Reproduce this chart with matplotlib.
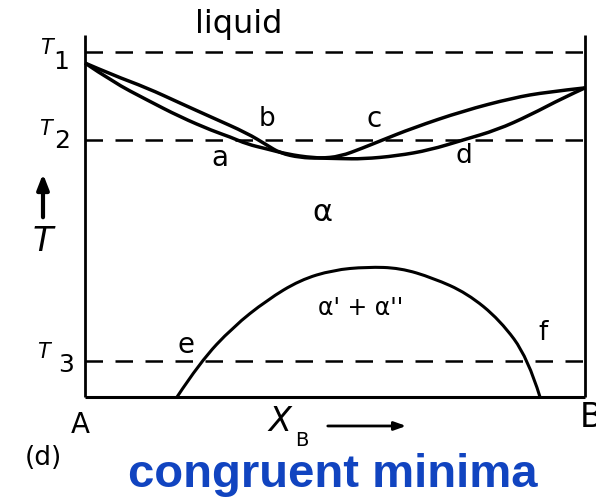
import matplotlib
matplotlib.use("Agg")
import matplotlib.pyplot as plt
from matplotlib.path import Path
from matplotlib.patches import PathPatch

# Composition X_B (0 = pure A, 1 = pure B) and reduced temperature
T1, T2, T3 = 1.0, 0.745, 0.104

liquidus_x = [0.0, 0.056, 0.124, 0.19, 0.256, 0.324, 0.364, 0.39, 0.43, 0.47, 0.51,
              0.556, 0.59, 0.656, 0.756, 0.856, 0.924, 1.0]
liquidus_T = [0.968, 0.933, 0.896, 0.852, 0.809, 0.765, 0.730, 0.707, 0.694, 0.692, 0.697,
              0.722, 0.742, 0.780, 0.829, 0.867, 0.884, 0.896]

solidus_x = [0.0, 0.056, 0.124, 0.19, 0.256, 0.29, 0.324, 0.364, 0.404, 0.456, 0.51,
             0.556, 0.624, 0.69, 0.756, 0.824, 0.89, 0.956, 1.0]
solidus_T = [0.968, 0.913, 0.861, 0.812, 0.771, 0.754, 0.733, 0.719, 0.704, 0.693, 0.691,
             0.690, 0.699, 0.716, 0.745, 0.774, 0.817, 0.867, 0.896]

gap_x = [0.184, 0.23, 0.296, 0.364, 0.43, 0.496, 0.564, 0.63, 0.696, 0.764, 0.83, 0.886, 0.91]
gap_T = [0.0, 0.101, 0.203, 0.281, 0.339, 0.368, 0.377, 0.374, 0.345, 0.301, 0.223, 0.113, 0.0]


def smooth_curve(ax, xs, ys, **kw):
    """Quadratic Bezier through the midpoints of successive nodes."""
    pts = list(zip(xs, ys))
    verts = [pts[0]]
    codes = [Path.MOVETO]
    for i in range(1, len(pts) - 2):
        mid = ((pts[i][0] + pts[i + 1][0]) / 2, (pts[i][1] + pts[i + 1][1]) / 2)
        verts += [pts[i], mid]
        codes += [Path.CURVE3, Path.CURVE3]
    verts += [pts[-2], pts[-1]]
    codes += [Path.CURVE3, Path.CURVE3]
    ax.add_patch(PathPatch(Path(verts, codes), fill=False, **kw))


fig = plt.figure(figsize=(5.96, 4.98), dpi=100)
ax = fig.add_axes([0, 0, 1, 1])
ax.set_xlim(-0.17, 1.022)
ax.set_ylim(-0.29275, 1.15072)
ax.axis("off")

# frame of the diagram
frame_top = 1.05
ax.plot([0, 0], [0, frame_top], color="black", lw=2.0, solid_capstyle="butt")
ax.plot([1, 1], [0, frame_top], color="black", lw=2.0, solid_capstyle="butt")
ax.plot([0, 1], [0, 0], color="black", lw=2.2, solid_capstyle="butt")

# isotherms
for t in (T1, T2, T3):
    ax.plot([0, 1], [t, t], color="black", lw=1.8, dashes=(7, 5))

# liquidus / solidus lens and miscibility gap
smooth_curve(ax, liquidus_x, liquidus_T, edgecolor="black", lw=2.5, joinstyle="round")
smooth_curve(ax, solidus_x, solidus_T, edgecolor="black", lw=2.5, joinstyle="round")
smooth_curve(ax, gap_x, gap_T, edgecolor="black", lw=2.2, joinstyle="round")

txt = dict(color="black", family="DejaVu Sans", ha="center", va="center")
ax.text(0.308, 1.055, "liquid", fontsize=23, **{**txt, "va": "baseline"})
ax.text(0.364, 0.806, "b", fontsize=19, **txt)
ax.text(0.27, 0.693, "a", fontsize=20, **txt)
ax.text(0.578, 0.806, "c", fontsize=20, **txt)
ax.text(0.758, 0.699, "d", fontsize=19, **txt)
ax.text(0.474, 0.536, "α", fontsize=22, **txt)
ax.text(0.552, 0.258, "α' + α''", fontsize=17, **txt)
ax.text(0.202, 0.151, "e", fontsize=20, **txt)
ax.text(0.916, 0.186, "f", fontsize=19, **txt)
ax.text(-0.01, -0.081, "A", fontsize=20, **txt)
ax.text(0.99, -0.058, "B", fontsize=24, **{**txt, "ha": "left"})
ax.text(-0.084, -0.177, "(d)", fontsize=19, **txt)

# temperature labels
for (tx, ty, nx, ny, n) in [(-0.078, 1.012, -0.048, 0.970, "1"),
                            (-0.08, 0.776, -0.046, 0.742, "2"),
                            (-0.084, 0.130, -0.038, 0.093, "3")]:
    ax.text(tx, ty, "T", fontsize=15, style="italic", **txt)
    ax.text(nx, ny, n, fontsize=18, **txt)

# temperature axis arrow
ax.annotate("", xy=(-0.084, 0.655), xytext=(-0.084, 0.513),
            arrowprops=dict(arrowstyle="-|>,head_length=0.9,head_width=0.35",
                            color="black", lw=3))
ax.text(-0.084, 0.452, "T", fontsize=24, style="italic", **txt)

# composition axis label and arrow
ax.text(0.39, -0.072, "X", fontsize=24, style="italic", **txt)
ax.text(0.434, -0.125, "B", fontsize=14, **txt)
ax.annotate("", xy=(0.648, -0.084), xytext=(0.48, -0.084),
            arrowprops=dict(arrowstyle="-|>,head_length=0.7,head_width=0.25",
                            color="black", lw=2))

ax.text(0.496, -0.261, "congruent minima", fontsize=34, fontweight="bold",
        family="Liberation Sans", color="#1144c0", ha="center", va="baseline")

fig.savefig("out.png", dpi=100)
